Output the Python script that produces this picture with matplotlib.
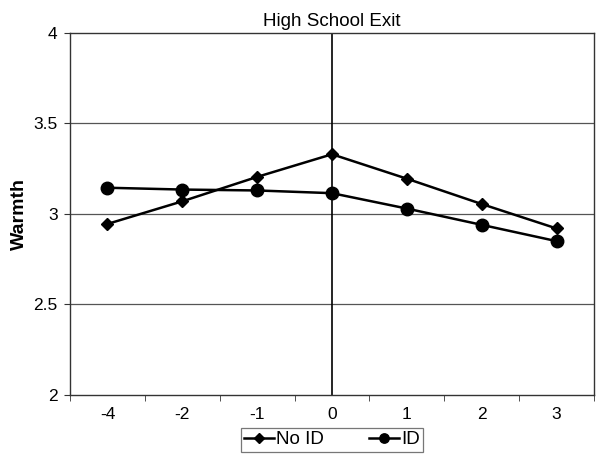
import numpy as np
import matplotlib.pyplot as plt

plt.rcParams['font.family'] = ['Liberation Sans', 'DejaVu Sans']

categories = ['-4', '-2', '-1', '0', '1', '2', '3']
no_id = [2.945, 3.07, 3.205, 3.33, 3.195, 3.055, 2.92]
id_vals = [3.145, 3.135, 3.13, 3.115, 3.03, 2.94, 2.85]

fig = plt.figure(figsize=(6, 4.57), dpi=100)
ax = fig.add_axes([0.1167, 0.1357, 0.8733, 0.7921])

x = np.arange(len(categories))
ax.set_xlim(-0.5, len(categories) - 0.5)
ax.set_ylim(2, 4)

for yv in [2.5, 3, 3.5]:
    ax.axhline(yv, color='#555555', lw=0.9, zorder=1)
ax.axvline(3, color='black', lw=1.2, zorder=1)

ax.plot(x, no_id, color='black', lw=1.8, marker='D', ms=6.5, label='No ID', zorder=3)
ax.plot(x, id_vals, color='black', lw=1.8, marker='o', ms=9, label='ID', zorder=3)

ax.set_xticks(x)
ax.set_xticklabels(categories, fontsize=12.5)
ax.tick_params(axis='x', which='major', length=0, pad=9)
ax.set_xticks(np.arange(-0.5, len(categories)), minor=True)
ax.tick_params(axis='x', which='minor', length=4, direction='out', color='#333333')

ax.set_yticks([2, 2.5, 3, 3.5, 4])
ax.set_yticklabels(['2', '2.5', '3', '3.5', '4'], fontsize=12.5)
ax.tick_params(axis='y', length=4, direction='out', color='#333333', pad=5)

for s in ax.spines.values():
    s.set_color('#333333')
    s.set_linewidth(1.0)

ax.set_ylabel('Warmth', fontsize=14, fontweight='bold', labelpad=4)
ax.set_title('High School Exit', fontsize=13.5, pad=5)

leg = ax.legend(loc='upper center', bbox_to_anchor=(0.5, -0.09), ncol=2,
                frameon=True, fancybox=False, edgecolor='#555555', fontsize=13.5,
                handlelength=1.6, handletextpad=0.1, columnspacing=2.4,
                borderpad=0.2, borderaxespad=0, markerscale=0.75)
leg.get_frame().set_linewidth(0.9)

fig.savefig('out.png', dpi=100, facecolor='white')
